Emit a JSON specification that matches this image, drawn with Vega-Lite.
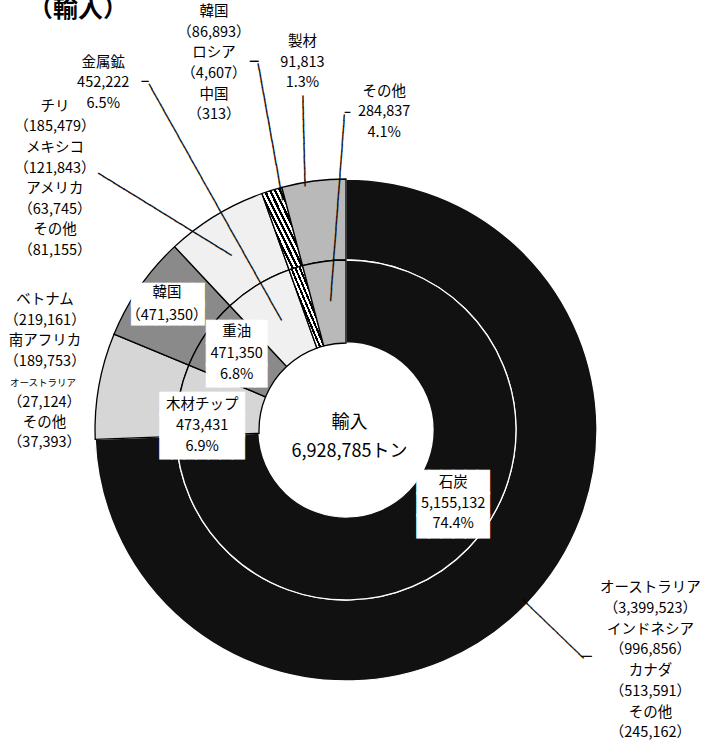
{
  "$schema": "https://vega.github.io/schema/vega-lite/v6.json",
  "width": 692,
  "height": 624,
  "autosize": {"type": "none"},
  "padding": {"left": 0, "top": 118, "right": 26, "bottom": 0},
  "background": "white",
  "config": {"view": {"stroke": null}},
  "data": {"values": [
    {"no": 1, "item": "石炭", "value": 5155132, "lab": ["石炭", "5,155,132", "74.4%"], "cty": ["オーストラリア", "（3,399,523）", "インドネシア", "（996,856）", "カナダ", "（513,591）", "その他", "（245,162）"]},
    {"no": 2, "item": "木材チップ", "value": 473431, "lab": ["木材チップ", "473,431", "6.9%"], "cty": ["ベトナム", "（219,161）", "南アフリカ", "（189,753）"], "cty2": "オーストラリア", "cty3": ["（27,124）", "その他", "（37,393）"]},
    {"no": 3, "item": "重油", "value": 471350, "lab": ["重油", "471,350", "6.8%"], "cty": ["韓国", "（471,350）"]},
    {"no": 4, "item": "金属鉱", "value": 452222, "lab": ["金属鉱", "452,222", "6.5%"], "cty": ["チリ", "（185,479）", "メキシコ", "（121,843）", "アメリカ", "（63,745）", "その他", "（81,155）"]},
    {"no": 5, "item": "製材", "value": 91813, "lab": ["製材", "91,813", "1.3%"], "cty": ["韓国", "（86,893）", "ロシア", "（4,607）", "中国", "（313）"]},
    {"no": 6, "item": "その他", "value": 284837, "lab": ["その他", "284,837", "4.1%"]}
  ]},
  "encoding": {
    "theta": {"field": "value", "type": "quantitative", "stack": true},
    "order": {"field": "no", "type": "quantitative"}
  },
  "layer": [
    {"mark": {"type": "arc", "radius": 251, "radius2": 170, "strokeWidth": 1.3},
     "encoding": {
       "fill": {"condition": {"test": "datum.item==='製材'", "value": {"gradient": "linear", "x1": 0, "y1": 1, "x2": 1, "y2": 0, "stops": [
         {"offset": 0, "color": "black"}, {"offset": 0.03125, "color": "black"}, {"offset": 0.03125, "color": "white"}, {"offset": 0.0625, "color": "white"},
         {"offset": 0.0625, "color": "black"}, {"offset": 0.09375, "color": "black"}, {"offset": 0.09375, "color": "white"}, {"offset": 0.125, "color": "white"},
         {"offset": 0.125, "color": "black"}, {"offset": 0.15625, "color": "black"}, {"offset": 0.15625, "color": "white"}, {"offset": 0.1875, "color": "white"},
         {"offset": 0.1875, "color": "black"}, {"offset": 0.21875, "color": "black"}, {"offset": 0.21875, "color": "white"}, {"offset": 0.25, "color": "white"},
         {"offset": 0.25, "color": "black"}, {"offset": 0.28125, "color": "black"}, {"offset": 0.28125, "color": "white"}, {"offset": 0.3125, "color": "white"},
         {"offset": 0.3125, "color": "black"}, {"offset": 0.34375, "color": "black"}, {"offset": 0.34375, "color": "white"}, {"offset": 0.375, "color": "white"},
         {"offset": 0.375, "color": "black"}, {"offset": 0.40625, "color": "black"}, {"offset": 0.40625, "color": "white"}, {"offset": 0.4375, "color": "white"},
         {"offset": 0.4375, "color": "black"}, {"offset": 0.46875, "color": "black"}, {"offset": 0.46875, "color": "white"}, {"offset": 0.5, "color": "white"},
         {"offset": 0.5, "color": "black"}, {"offset": 0.53125, "color": "black"}, {"offset": 0.53125, "color": "white"}, {"offset": 0.5625, "color": "white"},
         {"offset": 0.5625, "color": "black"}, {"offset": 0.59375, "color": "black"}, {"offset": 0.59375, "color": "white"}, {"offset": 0.625, "color": "white"},
         {"offset": 0.625, "color": "black"}, {"offset": 0.65625, "color": "black"}, {"offset": 0.65625, "color": "white"}, {"offset": 0.6875, "color": "white"},
         {"offset": 0.6875, "color": "black"}, {"offset": 0.71875, "color": "black"}, {"offset": 0.71875, "color": "white"}, {"offset": 0.75, "color": "white"},
         {"offset": 0.75, "color": "black"}, {"offset": 0.78125, "color": "black"}, {"offset": 0.78125, "color": "white"}, {"offset": 0.8125, "color": "white"},
         {"offset": 0.8125, "color": "black"}, {"offset": 0.84375, "color": "black"}, {"offset": 0.84375, "color": "white"}, {"offset": 0.875, "color": "white"},
         {"offset": 0.875, "color": "black"}, {"offset": 0.90625, "color": "black"}, {"offset": 0.90625, "color": "white"}, {"offset": 0.9375, "color": "white"},
         {"offset": 0.9375, "color": "black"}, {"offset": 0.96875, "color": "black"}, {"offset": 0.96875, "color": "white"}, {"offset": 1, "color": "white"}]}},
                "field": "item", "type": "nominal",
                "scale": {"domain": ["石炭", "木材チップ", "重油", "金属鉱", "製材", "その他"], "range": ["#111111", "#d6d6d6", "#8a8a8a", "#f0f0f0", "#7a7a7a", "#b9b9b9"]},
                "legend": null},
       "stroke": {"condition": {"test": "datum.item==='石炭'", "value": "white"}, "value": "black"}
     }},
    {"mark": {"type": "arc", "radius": 170, "radius2": 87, "strokeWidth": 1.3},
     "encoding": {
       "fill": {"condition": {"test": "datum.item==='製材'", "value": {"gradient": "linear", "x1": 0, "y1": 1, "x2": 1, "y2": 0, "stops": [
         {"offset": 0, "color": "black"}, {"offset": 0.03125, "color": "black"}, {"offset": 0.03125, "color": "white"}, {"offset": 0.0625, "color": "white"},
         {"offset": 0.0625, "color": "black"}, {"offset": 0.09375, "color": "black"}, {"offset": 0.09375, "color": "white"}, {"offset": 0.125, "color": "white"},
         {"offset": 0.125, "color": "black"}, {"offset": 0.15625, "color": "black"}, {"offset": 0.15625, "color": "white"}, {"offset": 0.1875, "color": "white"},
         {"offset": 0.1875, "color": "black"}, {"offset": 0.21875, "color": "black"}, {"offset": 0.21875, "color": "white"}, {"offset": 0.25, "color": "white"},
         {"offset": 0.25, "color": "black"}, {"offset": 0.28125, "color": "black"}, {"offset": 0.28125, "color": "white"}, {"offset": 0.3125, "color": "white"},
         {"offset": 0.3125, "color": "black"}, {"offset": 0.34375, "color": "black"}, {"offset": 0.34375, "color": "white"}, {"offset": 0.375, "color": "white"},
         {"offset": 0.375, "color": "black"}, {"offset": 0.40625, "color": "black"}, {"offset": 0.40625, "color": "white"}, {"offset": 0.4375, "color": "white"},
         {"offset": 0.4375, "color": "black"}, {"offset": 0.46875, "color": "black"}, {"offset": 0.46875, "color": "white"}, {"offset": 0.5, "color": "white"},
         {"offset": 0.5, "color": "black"}, {"offset": 0.53125, "color": "black"}, {"offset": 0.53125, "color": "white"}, {"offset": 0.5625, "color": "white"},
         {"offset": 0.5625, "color": "black"}, {"offset": 0.59375, "color": "black"}, {"offset": 0.59375, "color": "white"}, {"offset": 0.625, "color": "white"},
         {"offset": 0.625, "color": "black"}, {"offset": 0.65625, "color": "black"}, {"offset": 0.65625, "color": "white"}, {"offset": 0.6875, "color": "white"},
         {"offset": 0.6875, "color": "black"}, {"offset": 0.71875, "color": "black"}, {"offset": 0.71875, "color": "white"}, {"offset": 0.75, "color": "white"},
         {"offset": 0.75, "color": "black"}, {"offset": 0.78125, "color": "black"}, {"offset": 0.78125, "color": "white"}, {"offset": 0.8125, "color": "white"},
         {"offset": 0.8125, "color": "black"}, {"offset": 0.84375, "color": "black"}, {"offset": 0.84375, "color": "white"}, {"offset": 0.875, "color": "white"},
         {"offset": 0.875, "color": "black"}, {"offset": 0.90625, "color": "black"}, {"offset": 0.90625, "color": "white"}, {"offset": 0.9375, "color": "white"},
         {"offset": 0.9375, "color": "black"}, {"offset": 0.96875, "color": "black"}, {"offset": 0.96875, "color": "white"}, {"offset": 1, "color": "white"}]}},
                "field": "item", "type": "nominal",
                "scale": {"domain": ["石炭", "木材チップ", "重油", "金属鉱", "製材", "その他"], "range": ["#111111", "#d6d6d6", "#8a8a8a", "#f0f0f0", "#7a7a7a", "#b9b9b9"]},
                "legend": null},
       "stroke": {"condition": {"test": "datum.item==='石炭'", "value": "white"}, "value": "black"}
     }},
    {"mark": {"type": "text", "radius": 128, "dx": 15, "dy": -35.9, "align": "center", "baseline": "middle", "font": "DejaVu Sans Mono", "fontSize": 20, "lineHeight": 21.85, "color": "white", "stroke": "white", "strokeWidth": 1},
     "encoding": {"text": {"condition": {"test": "datum.item==='石炭'", "value": ["██████", "██████", "██████"]}, "value": ""}}},
    {"mark": {"type": "text", "radius": 142, "dx": -4, "dy": -0.4, "align": "center", "baseline": "middle", "font": "DejaVu Sans Mono", "fontSize": 20, "lineHeight": 21.85, "color": "white", "stroke": "white", "strokeWidth": 1},
     "encoding": {"text": {"condition": {"test": "datum.item==='木材チップ'", "value": ["███████", "███████", "███████"]}, "value": ""}}},
    {"mark": {"type": "text", "radius": 133, "dx": 0, "dy": -20.9, "align": "center", "baseline": "middle", "font": "DejaVu Sans Mono", "fontSize": 20, "lineHeight": 21.35, "color": "white", "stroke": "white", "strokeWidth": 1},
     "encoding": {"text": {"condition": {"test": "datum.item==='重油'", "value": ["█████", "█████", "█████"]}, "value": ""}}},
    {"mark": {"type": "text", "radius": 218.5, "dx": 1.5, "dy": -9.9, "align": "center", "baseline": "middle", "font": "DejaVu Sans Mono", "fontSize": 20, "lineHeight": 18.7, "color": "white", "stroke": "white", "strokeWidth": 1},
     "encoding": {"text": {"condition": {"test": "datum.item==='重油'", "value": ["██████", "██████"]}, "value": ""}}},

    {"mark": {"type": "text", "radius": 245, "angle": 43.93, "align": "left", "baseline": "middle", "font": "DejaVu Sans Mono", "fontSize": 10, "color": "black", "stroke": "black", "strokeWidth": 0.4},
     "encoding": {"text": {"condition": {"test": "datum.item==='石炭'", "value": "──────────────"}, "value": ""}}},
    {"mark": {"type": "text", "radius": 327, "angle": 0, "align": "left", "baseline": "middle", "font": "DejaVu Sans Mono", "fontSize": 8.3, "color": "black", "stroke": "black", "strokeWidth": 0.5},
     "encoding": {"text": {"condition": {"test": "datum.item==='石炭'", "value": "──"}, "value": ""}}},
    {"mark": {"type": "text", "radius": 127.4, "angle": 240.73, "dx": 0, "dy": 2.3, "align": "left", "baseline": "middle", "font": "DejaVu Sans Mono", "fontSize": 10, "color": "black", "stroke": "black", "strokeWidth": 0.4},
     "encoding": {"text": {"condition": {"test": "datum.item==='金属鉱'", "value": "─────────────────────────────────────────────"}, "value": ""}}},
    {"mark": {"type": "text", "radius": 400, "angle": 0, "dx": 3.6, "dy": -6.3, "align": "left", "baseline": "middle", "font": "DejaVu Sans Mono", "fontSize": 11, "color": "black", "stroke": "black", "strokeWidth": 0.4},
     "encoding": {"text": {"condition": {"test": "datum.item==='金属鉱'", "value": "─"}, "value": ""}}},
    {"mark": {"type": "text", "radius": 208.9, "angle": 211.67, "dx": 3, "dy": -6, "align": "left", "baseline": "middle", "font": "DejaVu Sans Mono", "fontSize": 10, "color": "black", "stroke": "black", "strokeWidth": 0.4},
     "encoding": {"text": {"condition": {"test": "datum.item==='金属鉱'", "value": "──────────────────────────"}, "value": ""}}},
    {"mark": {"type": "text", "radius": 238.3, "angle": 259.83, "dx": 1, "dy": 7.7, "align": "left", "baseline": "middle", "font": "DejaVu Sans Mono", "fontSize": 10, "color": "black", "stroke": "black", "strokeWidth": 0.4},
     "encoding": {"text": {"condition": {"test": "datum.item==='製材'", "value": "───────────────────────"}, "value": ""}}},
    {"mark": {"type": "text", "radius": 379.7, "angle": 0, "dx": 16.2, "dy": -4.9, "align": "left", "baseline": "middle", "font": "DejaVu Sans Mono", "fontSize": 13.8, "color": "black", "stroke": "black", "strokeWidth": 0.3},
     "encoding": {"text": {"condition": {"test": "datum.item==='製材'", "value": "─"}, "value": ""}}},
    {"mark": {"type": "text", "radius": 245.1, "angle": 268.59, "dx": 9, "dy": 32.1, "align": "left", "baseline": "middle", "font": "DejaVu Sans Mono", "fontSize": 10, "color": "black", "stroke": "black", "strokeWidth": 0.4},
     "encoding": {"text": {"condition": {"test": "datum.item==='製材'", "value": "───────────────"}, "value": ""}}},
    {"mark": {"type": "text", "radius": 129.9, "angle": 274.25, "dx": 0.3, "dy": 1.7, "align": "left", "baseline": "middle", "font": "DejaVu Sans Mono", "fontSize": 10, "color": "black", "stroke": "black", "strokeWidth": 0.4},
     "encoding": {"text": {"condition": {"test": "datum.item==='その他'", "value": "───────────────────────────────"}, "value": ""}}},
    {"mark": {"type": "text", "radius": 314.8, "angle": 0, "dx": 39.5, "dy": -5.1, "align": "left", "baseline": "middle", "font": "DejaVu Sans Mono", "fontSize": 8.3, "color": "black", "stroke": "black", "strokeWidth": 0.5},
     "encoding": {"text": {"condition": {"test": "datum.item==='その他'", "value": "─"}, "value": ""}}},

    {"mark": {"type": "text", "radius": 128, "dx": 15, "dy": -35.5, "align": "center", "baseline": "middle", "font": "Noto Sans CJK JP", "fontSize": 14.5, "lineHeight": 20.5, "color": "black"},
     "encoding": {"text": {"condition": {"test": "datum.item==='石炭'", "field": "lab"}, "value": ""}}},
    {"mark": {"type": "text", "radius": 142, "dx": -4, "dy": -0.3, "align": "center", "baseline": "middle", "font": "Noto Sans CJK JP", "fontSize": 14.5, "lineHeight": 21.3, "color": "black"},
     "encoding": {"text": {"condition": {"test": "datum.item==='木材チップ'", "field": "lab"}, "value": ""}}},
    {"mark": {"type": "text", "radius": 133, "dx": 0, "dy": -22.4, "align": "center", "baseline": "middle", "font": "Noto Sans CJK JP", "fontSize": 14.5, "lineHeight": 21.6, "color": "black"},
     "encoding": {"text": {"condition": {"test": "datum.item==='重油'", "field": "lab"}, "value": ""}}},
    {"mark": {"type": "text", "radius": 218.5, "dx": 0.6, "dy": -12.2, "align": "center", "baseline": "middle", "font": "Noto Sans CJK JP", "fontSize": 14.5, "lineHeight": 22.5, "color": "black"},
     "encoding": {"text": {"condition": {"test": "datum.item==='重油'", "field": "cty"}, "value": ""}}},
    {"mark": {"type": "text", "radius": 422, "dx": -23.4, "dy": -6.7, "align": "center", "baseline": "middle", "font": "Noto Sans CJK JP", "fontSize": 14.5, "lineHeight": 20.5, "color": "black"},
     "encoding": {"text": {"condition": {"test": "datum.item==='金属鉱'", "field": "lab"}, "value": ""}}},
    {"mark": {"type": "text", "radius": 366, "dx": -100.8, "dy": -10.6, "align": "center", "baseline": "middle", "font": "Noto Sans CJK JP", "fontSize": 14.5, "lineHeight": 20.6, "color": "black"},
     "encoding": {"text": {"condition": {"test": "datum.item==='金属鉱'", "field": "cty"}, "value": ""}}},
    {"mark": {"type": "text", "radius": 389, "dx": -17.1, "dy": -46.1, "align": "center", "baseline": "middle", "font": "Noto Sans CJK JP", "fontSize": 14.5, "lineHeight": 20.6, "color": "black"},
     "encoding": {"text": {"condition": {"test": "datum.item==='製材'", "field": "cty"}, "value": ""}}},
    {"mark": {"type": "text", "radius": 364, "dx": 64, "dy": -40.5, "align": "center", "baseline": "middle", "font": "Noto Sans CJK JP", "fontSize": 14.5, "lineHeight": 20.8, "color": "black"},
     "encoding": {"text": {"condition": {"test": "datum.item==='製材'", "field": "lab"}, "value": ""}}},
    {"mark": {"type": "text", "radius": 310, "dx": 78.1, "dy": -30.9, "align": "center", "baseline": "middle", "font": "Noto Sans CJK JP", "fontSize": 14.5, "lineHeight": 20.8, "color": "black"},
     "encoding": {"text": {"condition": {"test": "datum.item==='その他'", "field": "lab"}, "value": ""}}},
    {"mark": {"type": "text", "radius": 380, "dx": 30.7, "dy": -105.2, "align": "center", "baseline": "middle", "font": "Noto Sans CJK JP", "fontSize": 14.5, "lineHeight": 20.7, "color": "black"},
     "encoding": {"text": {"condition": {"test": "datum.item==='石炭'", "field": "cty"}, "value": ""}}},
    {"mark": {"type": "text", "radius": 300, "dx": -5.7, "dy": -77.1, "align": "center", "baseline": "middle", "font": "Noto Sans CJK JP", "fontSize": 14.5, "lineHeight": 20.6, "color": "black"},
     "encoding": {"text": {"condition": {"test": "datum.item==='木材チップ'", "field": "cty"}, "value": ""}}},
    {"mark": {"type": "text", "radius": 300, "dx": -7.7, "dy": 5.6, "align": "center", "baseline": "middle", "font": "Noto Sans CJK JP", "fontSize": 9.5, "color": "black"},
     "encoding": {"text": {"condition": {"test": "datum.item==='木材チップ'", "field": "cty2"}, "value": ""}}},
    {"mark": {"type": "text", "radius": 300, "dx": -6.2, "dy": 26.2, "align": "center", "baseline": "middle", "font": "Noto Sans CJK JP", "fontSize": 14.5, "lineHeight": 20, "color": "black"},
     "encoding": {"text": {"condition": {"test": "datum.item==='木材チップ'", "field": "cty3"}, "value": ""}}},
    {"mark": {"type": "text", "dx": 3.5, "dy": -7, "align": "center", "baseline": "middle", "font": "Noto Sans CJK JP", "fontSize": 18, "lineHeight": 29, "color": "black"},
     "encoding": {"theta": null, "text": {"condition": {"test": "datum.item==='石炭'", "value": ["輸入", "6,928,785トン"]}, "value": ""}}},
    {"mark": {"type": "text", "dx": -318, "dy": -413, "align": "left", "baseline": "alphabetic", "font": "Noto Sans CJK JP", "fontSize": 25, "fontWeight": "bold", "color": "black"},
     "encoding": {"theta": null, "text": {"condition": {"test": "datum.item==='石炭'", "value": "（輸入）"}, "value": ""}}}
  ]
}
